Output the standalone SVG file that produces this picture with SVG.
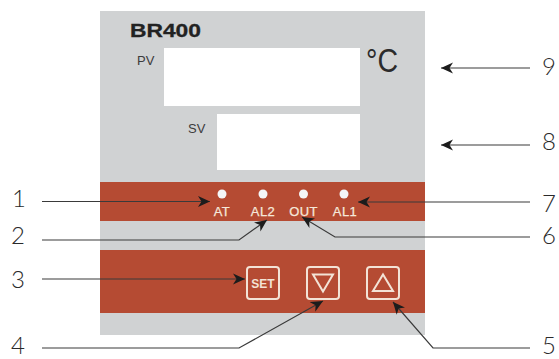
<svg xmlns="http://www.w3.org/2000/svg" width="559" height="359" viewBox="0 0 559 359">
<style>
text{font-family:"Liberation Sans",Arial,sans-serif}
.num{font-family:"Lato","Open Sans",sans-serif;font-weight:300;font-size:24px;fill:#2a2a2a;text-anchor:middle}
.led{font-size:13px;fill:#f5e8da;stroke:#f5e8da;stroke-width:.25;text-anchor:middle;letter-spacing:.4px}
.lab{font-size:13px;fill:#3c3c3c}
.band{fill:#b54b33}
.btn{fill:none;stroke:#f3e3d6;stroke-width:2}
.dot{fill:#f4f6f8}
.disp{fill:#fff}
.c{fill:none;stroke:#3a3a3a;stroke-width:1.2}
</style>
<defs>
<marker id="a" markerUnits="userSpaceOnUse" markerWidth="14" markerHeight="12" refX="12" refY="6" orient="auto">
<path d="M0 0.5L12 6L0 11.5L3.5 6Z" fill="#1c1c1c"/>
</marker>
</defs>
<g id="panel">
<rect x="100" y="11" width="325" height="324" fill="#d0d2d3"/>
<rect class="band" x="100" y="182" width="325" height="39"/>
<rect class="band" x="100" y="250" width="325" height="63"/>
<text x="130" y="36.500" font-size="18.5" font-weight="bold" fill="#222" stroke="#222" stroke-width=".3" textLength="71" lengthAdjust="spacingAndGlyphs">BR400</text>
<text x="366" y="72" font-size="34" fill="#2b2b2b" textLength="32" lengthAdjust="spacingAndGlyphs">°C</text>
</g>
<g id="pv"><text class="lab" x="137" y="64.500">PV</text><rect class="disp" x="164" y="48" width="196" height="58"/></g>
<g id="sv"><text class="lab" x="188" y="133">SV</text><rect class="disp" x="217" y="114" width="143" height="56"/></g>
<g id="led-at"><circle class="dot" cx="222" cy="194" r="4.5"/><text class="led" x="222" y="216">AT</text></g>
<g id="led-al2"><circle class="dot" cx="263" cy="194" r="4.5"/><text class="led" x="263" y="216">AL2</text></g>
<g id="led-out"><circle class="dot" cx="303.500" cy="194" r="4.5"/><text class="led" x="303.500" y="216">OUT</text></g>
<g id="led-al1"><circle class="dot" cx="344" cy="194" r="4.5"/><text class="led" x="345" y="216">AL1</text></g>
<g id="btn-set"><rect class="btn" x="247" y="267" width="32" height="32" rx="3"/><text x="263" y="287.500" font-size="12" font-weight="bold" fill="#f3e3d6" text-anchor="middle">SET</text></g>
<g id="btn-down"><rect class="btn" x="307" y="267" width="32" height="32" rx="3"/><path d="M313 274.500H333L323 291.500Z" fill="none" stroke="#f3e3d6" stroke-width="2"/></g>
<g id="btn-up"><rect class="btn" x="367" y="267" width="32" height="32" rx="3"/><path d="M373 291H393L383 274.500Z" fill="none" stroke="#f3e3d6" stroke-width="2"/></g>
<g id="connectors">
<path class="c" marker-end="url(#a)" d="M42 201.500H210"/>
<path class="c" marker-end="url(#a)" d="M42 240H239L267 220"/>
<path class="c" marker-end="url(#a)" d="M42 279H245"/>
<path class="c" marker-end="url(#a)" d="M42 348H239L323 301"/>
<path class="c" marker-end="url(#a)" d="M530 348H433L393 302"/>
<path class="c" marker-end="url(#a)" d="M530 237H335L302 217"/>
<path class="c" marker-end="url(#a)" d="M530 202H358"/>
<path class="c" marker-end="url(#a)" d="M530 145H441"/>
<path class="c" marker-end="url(#a)" d="M530 68H441"/>
</g>
<g id="labels">
<text class="num" x="19" y="207">1</text>
<text class="num" x="18" y="244">2</text>
<text class="num" x="18" y="288">3</text>
<text class="num" x="18" y="353.500">4</text>
<text class="num" x="549" y="353.500">5</text>
<text class="num" x="549" y="244">6</text>
<text class="num" x="549" y="212">7</text>
<text class="num" x="549" y="150">8</text>
<text class="num" x="549" y="75">9</text>
</g>
</svg>
